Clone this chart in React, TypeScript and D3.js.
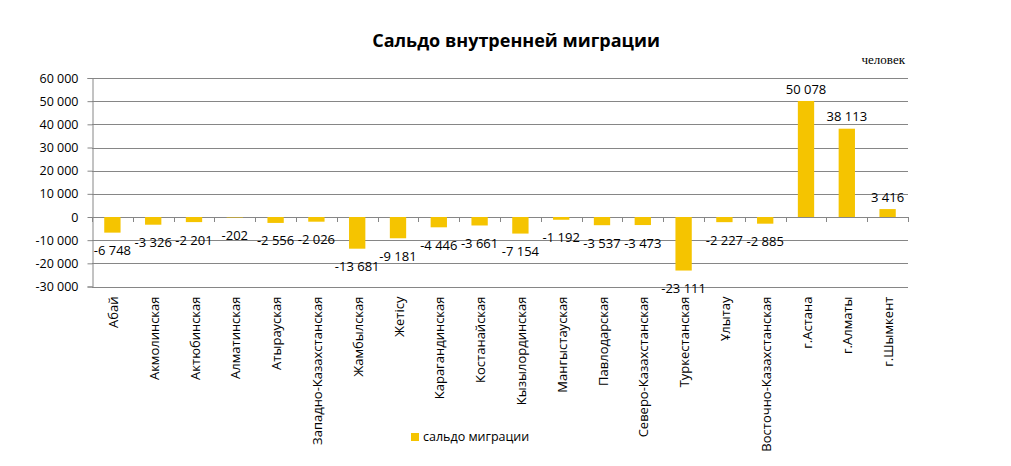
import React, { useEffect, useRef } from "react";
import * as d3 from "d3";

const regions = [
  "Абай", "Акмолинская", "Актюбинская", "Алматинская", "Атырауская",
  "Западно-Казахстанская", "Жамбылская", "Жетісу", "Карагандинская", "Костанайская",
  "Кызылординская", "Мангыстауская", "Павлодарская", "Северо-Казахстанская", "Туркестанская",
  "Ұлытау", "Восточно-Казахстанская", "г.Астана", "г.Алматы", "г.Шымкент",
];
const saldo = [
  -6748, -3326, -2201, -202, -2556, -2026, -13681, -9181, -4446, -3661,
  -7154, -1192, -3537, -3473, -23111, -2227, -2885, 50078, 38113, 3416,
];
const yTicks = [-30000, -20000, -10000, 0, 10000, 20000, 30000, 40000, 50000, 60000];

// thousands with a space, plain hyphen for minus
const fmt = (v: number) => d3.format(",")(v).replace(/,/g, " ").replace("\u2212", "-");

export default function App() {
  const ref = useRef<SVGSVGElement>(null);

  useEffect(() => {
    const width = 1011;
    const height = 466;
    const margin = { top: 78, right: 103, bottom: 180, left: 92 };
    const svg = d3.select(ref.current);
    svg.selectAll("*").remove();
    const font = "'Open Sans', 'DejaVu Sans', sans-serif";

    svg.append("rect").attr("width", width).attr("height", height).attr("fill", "#fff");

    const x = d3
      .scaleBand()
      .domain(regions)
      .range([margin.left, width - margin.right])
      .paddingInner(0.6)
      .paddingOuter(0.3);
    const y = d3
      .scaleLinear()
      .domain([-30000, 60000])
      .range([286.5, margin.top]);

    // gridlines
    svg
      .append("g")
      .selectAll("line")
      .data(yTicks)
      .join("line")
      .attr("x1", margin.left)
      .attr("x2", width - margin.right)
      .attr("y1", (d) => Math.round(y(d)) + 0.5)
      .attr("y2", (d) => Math.round(y(d)) + 0.5)
      .attr("stroke", "#868686")
      .attr("stroke-width", 1);

    // y axis
    const yAxis = d3
      .axisLeft(y)
      .tickValues(yTicks)
      .tickSize(5)
      .tickFormat((d) => fmt(d as number));
    svg
      .append("g")
      .attr("transform", `translate(${margin.left + 0.5},0)`)
      .call(yAxis)
      .call((g) => g.select(".domain").attr("stroke", "#868686"))
      .call((g) => g.selectAll(".tick line").attr("stroke", "#868686"))
      .call((g) =>
        g
          .selectAll(".tick text")
          .attr("font-family", font)
          .attr("font-size", 12.5)
          .attr("fill", "#000")
          .attr("x", -14)
      );

    // bars
    svg
      .append("g")
      .selectAll("rect")
      .data(saldo)
      .join("rect")
      .attr("x", (d, i) => x(regions[i])!)
      .attr("width", x.bandwidth())
      .attr("y", (d) => y(Math.max(0, d)))
      .attr("height", (d) => Math.abs(y(d) - y(0)))
      .attr("fill", "#F5C400");

    // category ticks on zero line
    const step = x.step();
    svg
      .append("g")
      .selectAll("line")
      .data(d3.range(regions.length + 1))
      .join("line")
      .attr("x1", (i) => Math.round(margin.left + i * step) + 0.5)
      .attr("x2", (i) => Math.round(margin.left + i * step) + 0.5)
      .attr("y1", Math.round(y(0)))
      .attr("y2", Math.round(y(0)) + 5)
      .attr("stroke", "#868686");

    // value labels
    svg
      .append("g")
      .selectAll("text")
      .data(saldo)
      .join("text")
      .attr("x", (d, i) => x(regions[i])! + x.bandwidth() / 2)
      .attr("y", (d) => (d < 0 ? y(d) + 18 : y(d) - 12))
      .attr("dy", "0.35em")
      .attr("text-anchor", "middle")
      .attr("font-family", font)
      .attr("font-size", 13)
      .attr("fill", "#000")
      .text((d) => fmt(d));

    // category labels
    svg
      .append("g")
      .selectAll("text")
      .data(regions)
      .join("text")
      .attr(
        "transform",
        (d) => `translate(${x(d)! + x.bandwidth() / 2 + 5.5},${y(-30000) + 10}) rotate(-90)`
      )
      .attr("text-anchor", "end")
      .attr("font-family", font)
      .attr("font-size", 13)
      .attr("fill", "#000")
      .text((d) => d);

    // title
    svg
      .append("text")
      .attr("x", 516)
      .attr("y", 47)
      .attr("text-anchor", "middle")
      .attr("font-family", font)
      .attr("font-weight", "bold")
      .attr("font-size", 18)
      .attr("fill", "#000")
      .text("Сальдо внутренней миграции");

    // unit
    svg
      .append("text")
      .attr("x", 905)
      .attr("y", 64)
      .attr("text-anchor", "end")
      .attr("font-family", "'Liberation Serif', serif")
      .attr("font-size", 13)
      .attr("fill", "#000")
      .text("человек");

    // legend
    const lg = svg.append("g").attr("transform", "translate(411,437)");
    lg.append("rect").attr("x", 0).attr("y", -4).attr("width", 8).attr("height", 8).attr("fill", "#F5C400");
    lg.append("text")
      .attr("x", 12)
      .attr("y", 0)
      .attr("dy", "0.35em")
      .attr("font-family", font)
      .attr("font-size", 12.5)
      .attr("fill", "#000")
      .text("сальдо миграции");
  }, []);

  return (
    <svg
      ref={ref}
      width={1011}
      height={466}
      style={{ position: "absolute", left: 0, top: 0 }}
    />
  );
}
